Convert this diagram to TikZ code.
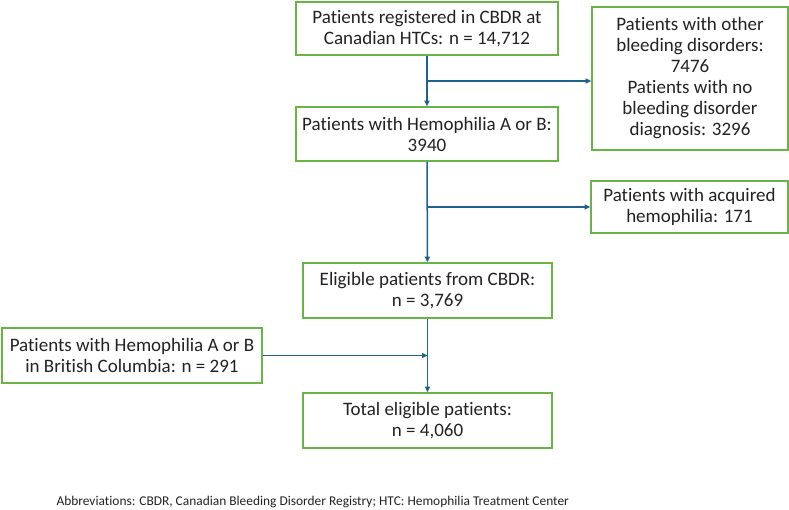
\documentclass[tikz,border=0pt]{standalone}
\usepackage{fontspec}
\setmainfont{Carlito}[Ligatures=NoCommon]
\usetikzlibrary{arrows.meta,positioning,calc}
\definecolor{boxgreen}{HTML}{6AB446}
\definecolor{flowblue}{HTML}{22618E}
\definecolor{inkdark}{HTML}{222222}

\begin{document}
\begin{tikzpicture}[x=1pt,y=-1pt, font=\fontsize{19}{21}\selectfont, text=inkdark,
 box/.style={draw=boxgreen,line width=1.6pt,align=center,inner sep=1pt},
 arr/.style={-{Triangle[length=5.5pt,width=5pt]},line width=1.5pt,draw=flowblue}]
\useasboundingbox (0,0) rectangle (789,510);
\node[box,minimum width=262,minimum height=53] (reg) at (427,28.5) {Patients registered in CBDR at\\Canadian HTCs: n = 14,712};
\node[box,minimum width=262,minimum height=54] (hem) at (427,134) {Patients with Hemophilia A or B:\\3940};
\node[box,minimum width=196,minimum height=143] (other) at (690,78.5) {Patients with other\\bleeding disorders:\\7476\\Patients with no\\bleeding disorder\\diagnosis: 3296};
\node[box,minimum width=197,minimum height=52] (acq) at (689.5,207) {Patients with acquired\\hemophilia: 171};
\node[box,minimum width=249,minimum height=55] (elig) at (427.5,290.5) {Eligible patients from CBDR:\\n = 3,769};
\node[box,minimum width=260,minimum height=55] (bc) at (132,355.5) {Patients with Hemophilia A or B\\in British Columbia: n = 291};
\node[box,minimum width=249,minimum height=55] (total) at (427.5,420.5) {Total eligible patients:\\n = 4,060};
\node[anchor=base west,font=\fontsize{13.4}{15}\selectfont] (abbr) at (53,505) {Abbreviations: CBDR, Canadian Bleeding Disorder Registry; HTC: Hemophilia Treatment Center};
% main column
\coordinate (split1) at ($(reg.south)!0.5!(hem.north)$);
\draw[arr] (reg) -- (hem); \draw[arr] (split1) -- (split1 -| other.west);
\draw[arr] (hem) -- (elig); \draw[arr] (hem.south |- acq.west) -- (acq.west);
\draw[arr] (elig) -- (total); \draw[arr] (bc.east) -- (bc.east -| total.north);
\end{tikzpicture}
\end{document}
